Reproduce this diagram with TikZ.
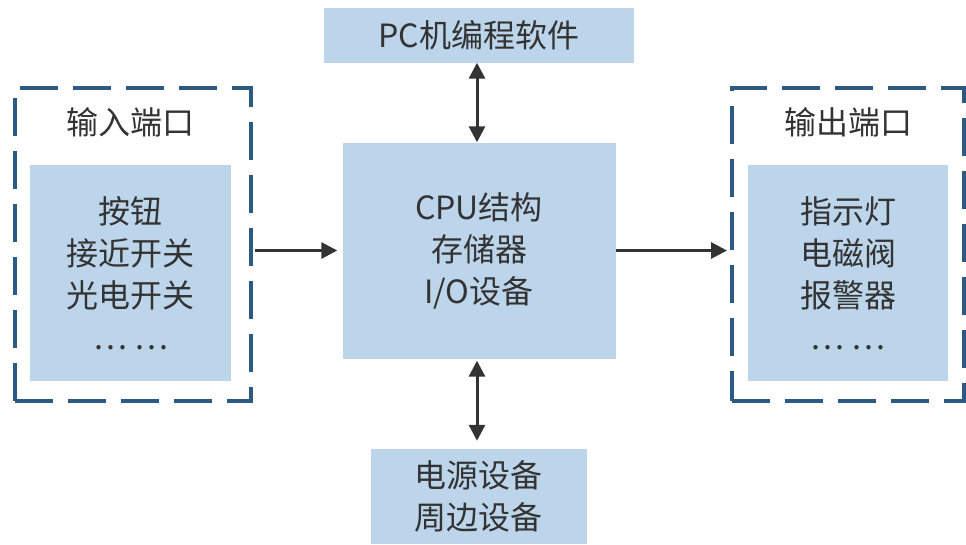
\documentclass[tikz,border=0pt]{standalone}
\usepackage{fontspec}
\newfontfamily\cjk{Noto Sans CJK SC}
\usetikzlibrary{arrows.meta}
\definecolor{boxblue}{HTML}{BDD5EA}
\definecolor{portblue}{HTML}{2C5A82}
\definecolor{txtgray}{HTML}{333333}

\begin{document}
\begin{tikzpicture}[x=1pt,y=-1pt]
        \tikzstyle{every node}=[font=\cjk\fontsize{32}{42}\selectfont, text=txtgray, align=center, inner sep=0pt]
        \tikzstyle{box}=[fill=boxblue]
        \tikzstyle{port}=[draw=portblue, line width=4pt, dash pattern=on 38pt off 15pt]
        \tikzstyle{link}=[draw=txtgray, line width=3pt, -{Triangle[length=16pt,width=16pt]}]
        \tikzstyle{dlink}=[link, {Triangle[length=16pt,width=16pt]}-{Triangle[length=16pt,width=16pt]}]
        \useasboundingbox (0,0) rectangle (966,544);
        % ports
        \node[port, minimum width=236pt, minimum height=313pt] (inport) at (133,244.5) {};
        \node[port, minimum width=232pt, minimum height=313pt] (outport) at (848,244.5) {};
        \node (inlabel) at (130,122) {输入端口};
        \node (outlabel) at (848,122) {输出端口};
        \node[box, minimum width=201pt, minimum height=216pt] (inbox) at (130.5,273) {按钮\\接近开关\\光电开关\\… …};
        \node[box, minimum width=200pt, minimum height=216pt] (outbox) at (848,273) {指示灯\\电磁阀\\报警器\\… …};
        % centre
        \node[box, minimum width=273pt, minimum height=216pt] (cpu) at (479,250.5) {CPU结构\\存储器\\I/O设备};
        \node[box, minimum width=310pt, minimum height=55pt] (pc) at (479,35) {PC机编程软件};
        \node[box, minimum width=216pt, minimum height=95pt] (power) at (478.5,496.5) {电源设备\\周边设备};
        % links
        \draw[link, shorten <=2pt, shorten >=5pt] (inport.east |- cpu.west) -- (cpu.west);
        \draw[link, shorten >=3pt] (cpu.east) -- (outport.west |- cpu.east);
        \draw[dlink] (pc.south -| 477,0) -- (cpu.north -| 477,0);
        \draw[dlink, shorten <=2pt, shorten >=8pt] (cpu.south -| 477,0) -- (power.north -| 477,0);
\end{tikzpicture}
\end{document}
